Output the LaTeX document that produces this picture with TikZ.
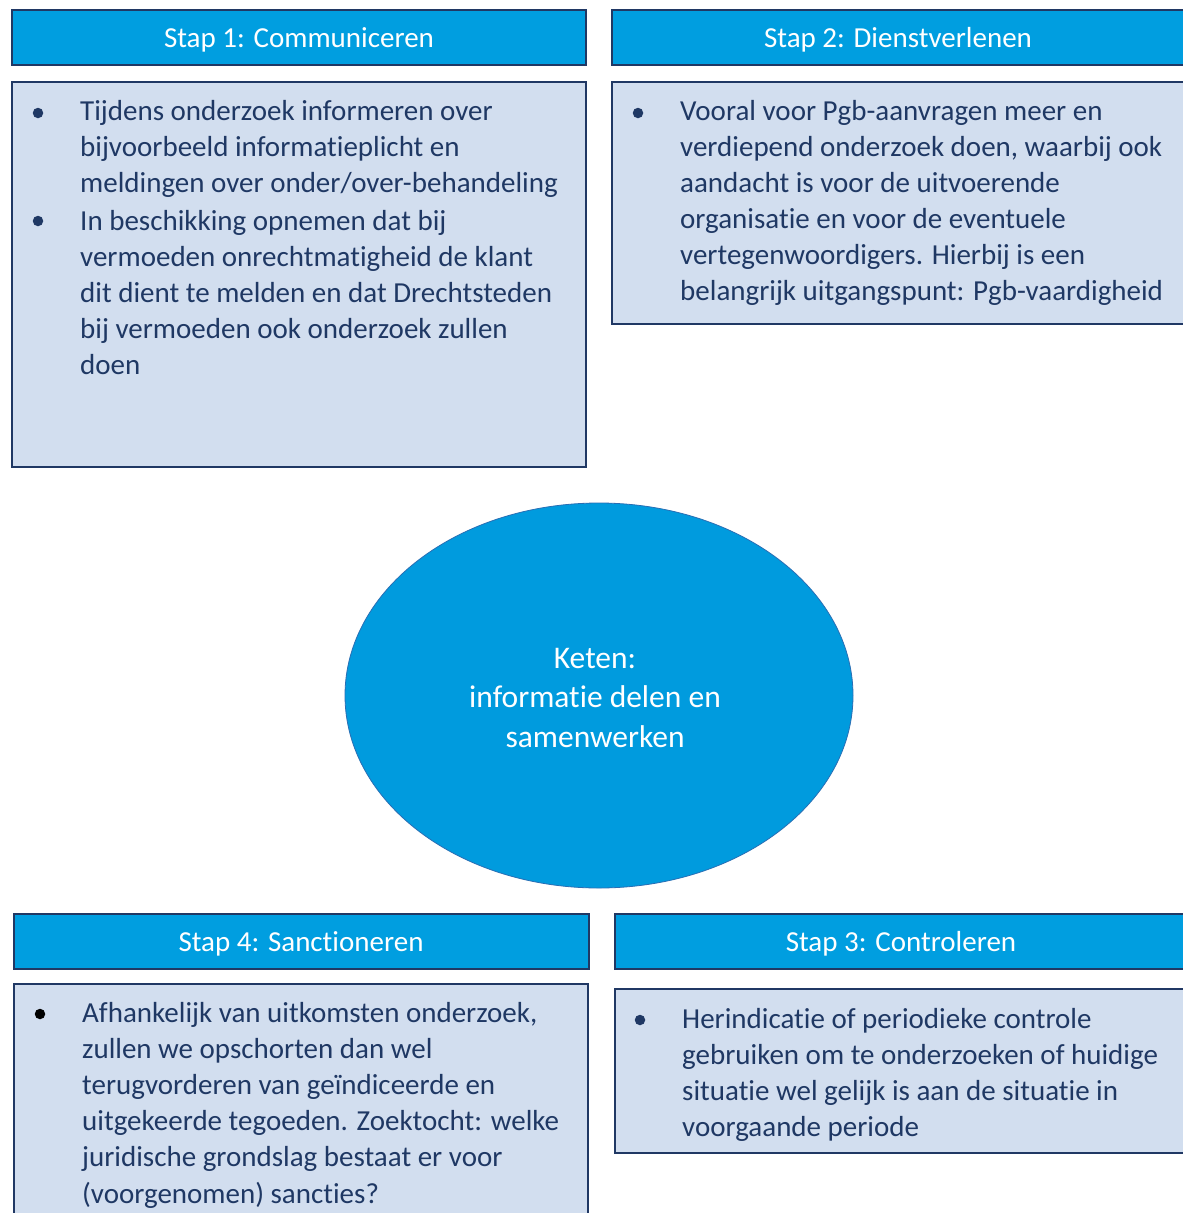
\documentclass[tikz,border=0pt]{standalone}
\usepackage{fontspec}
\setmainfont[Ligatures={NoCommon}]{Carlito}
\usetikzlibrary{shapes.geometric}
\definecolor{headfill}{RGB}{0,158,224}
\definecolor{boxline}{RGB}{32,56,100}
\definecolor{bodyfill}{RGB}{210,222,239}
\definecolor{bodytext}{RGB}{31,56,100}
\definecolor{ellfill}{RGB}{0,155,222}
\definecolor{ellline}{RGB}{40,110,180}
\begin{document}
\begin{tikzpicture}[x=1pt,y=-1pt,
  header/.style={draw=boxline, line width=1.8pt, fill=headfill},
  headtxt/.style={text=white, font=\fontsize{29}{34}\selectfont, anchor=base, inner sep=0pt},
  bodybox/.style={draw=boxline, line width=1.5pt, fill=bodyfill},
  bodytxt/.style={anchor=base west, inner sep=0pt, align=left, text=bodytext, font=\fontsize{29}{36.1}\selectfont},
  bul/.style={circle, fill=bodytext, inner sep=0pt, minimum size=10.5pt},
  blackbul/.style={circle, fill=black, inner sep=0pt, minimum size=10.5pt}
]
\useasboundingbox (0,0) rectangle (1183,1213);
\fill[white] (0,0) rectangle (1183,1213);

% Stap 1
\draw[header] (12,10) rectangle (586,65);
\node[headtxt] (h1) at (299,47) {Stap 1: Communiceren};
\draw[bodybox] (12,82) rectangle (586,467);
\node[bul] (b1a) at (38,113) {};
\node[bodytxt] (t1a) at (80,192.5) {Tijdens onderzoek informeren over\\bijvoorbeeld informatieplicht en\\meldingen over onder/over-behandeling};
\node[bul] (b1b) at (38,221) {};
\node[bodytxt] (t1b) at (80,374.5) {In beschikking opnemen dat bij\\vermoeden onrechtmatigheid de klant\\dit dient te melden en dat Drechtsteden\\bij vermoeden ook onderzoek zullen\\doen};

% Stap 2
\draw[header] (612,10) rectangle (1195,65);
\node[headtxt] (h2) at (898,47) {Stap 2: Dienstverlenen};
\draw[bodybox] (612,82) rectangle (1195,324);
\node[bul] (b2a) at (638,113) {};
\node[bodytxt] (t2a) at (680,300.5) {Vooral voor Pgb-aanvragen meer en\\verdiepend onderzoek doen, waarbij ook\\aandacht is voor de uitvoerende\\organisatie en voor de eventuele\\vertegenwoordigers. Hierbij is een\\belangrijk uitgangspunt: Pgb-vaardigheid};

% Keten
\node[ellipse, draw=ellline, line width=0.8pt, fill=ellfill, minimum width=508pt, minimum height=385pt, inner sep=0pt] (keten) at (599,695.5) {};
\node[text=white, font=\fontsize{31.5}{39.5}\selectfont, align=center, anchor=base, inner sep=0pt] (kt) at (595,747) {Keten:\\informatie delen en\\samenwerken};

% Stap 4
\draw[header] (14,914) rectangle (589,969);
\node[headtxt] (h4) at (301,951) {Stap 4: Sanctioneren};
\draw[bodybox] (14,984) rectangle (588,1225);
\node[blackbul] (b4a) at (40,1014) {};
\node[bodytxt] (t4a) at (82,1203) {Afhankelijk van uitkomsten onderzoek,\\zullen we opschorten dan wel\\terugvorderen van geïndiceerde en\\uitgekeerde tegoeden. Zoektocht: welke\\juridische grondslag bestaat er voor\\(voorgenomen) sancties?};

% Stap 3
\draw[header] (615,914) rectangle (1195,969);
\node[headtxt] (h3) at (901,951) {Stap 3: Controleren};
\draw[bodybox] (615,989) rectangle (1195,1153);
\node[bul] (b3a) at (640,1020) {};
\node[bodytxt] (t3a) at (682,1136.5) {Herindicatie of periodieke controle\\gebruiken om te onderzoeken of huidige\\situatie wel gelijk is aan de situatie in\\voorgaande periode};
\end{tikzpicture}
\end{document}
